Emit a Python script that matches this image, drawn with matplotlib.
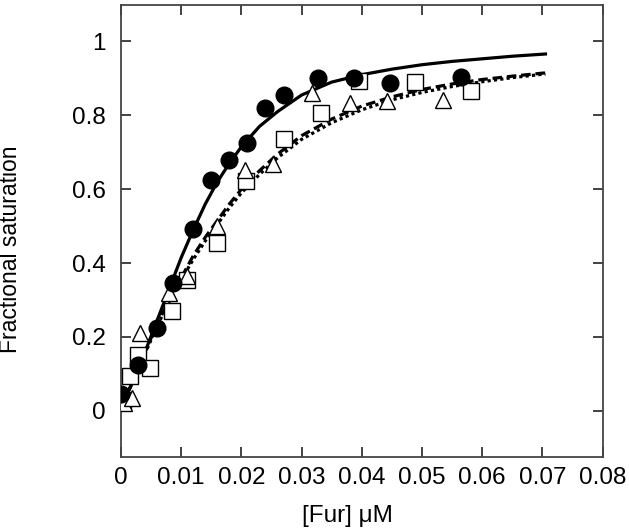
import numpy as np
import matplotlib
matplotlib.use('Agg')
from matplotlib import pyplot as plt

plt.rcParams['font.family'] = ['Liberation Sans', 'DejaVu Sans']

# filled circles
circ_x = [0.0, 0.0028, 0.0059, 0.0086, 0.0120, 0.0149, 0.0180, 0.0209, 0.0239, 0.0270, 0.0327, 0.0387, 0.0446, 0.0564]
circ_y = [0.045, 0.125, 0.225, 0.347, 0.492, 0.624, 0.680, 0.725, 0.820, 0.855, 0.902, 0.900, 0.888, 0.904]

# open squares
sq_x = [0.0003, 0.0015, 0.0028, 0.0048, 0.0084, 0.0110, 0.0160, 0.0208, 0.0270, 0.0333, 0.0396, 0.0488, 0.0582]
sq_y = [0.030, 0.093, 0.150, 0.116, 0.270, 0.353, 0.454, 0.621, 0.736, 0.807, 0.892, 0.891, 0.865]

# open triangles
tri_x = [0.0005, 0.0018, 0.0031, 0.0079, 0.0110, 0.0160, 0.0206, 0.0253, 0.0318, 0.0380, 0.0442, 0.0535]
tri_y = [0.020, 0.035, 0.212, 0.319, 0.365, 0.501, 0.653, 0.667, 0.861, 0.834, 0.838, 0.841]

# fitted curves
fit_x = [0.0, 0.002, 0.004, 0.006, 0.008, 0.010, 0.012, 0.014, 0.016, 0.018, 0.020,
         0.023, 0.026, 0.030, 0.035, 0.040, 0.045, 0.050, 0.055, 0.060, 0.065, 0.0705]
solid_y = [0.01, 0.08, 0.16, 0.245, 0.33, 0.415, 0.49, 0.56, 0.62, 0.67, 0.715,
           0.77, 0.81, 0.855, 0.89, 0.91, 0.925, 0.937, 0.946, 0.953, 0.960, 0.966]
dash_y = [0.01, 0.08, 0.16, 0.235, 0.30, 0.36, 0.42, 0.47, 0.515, 0.56, 0.60,
          0.65, 0.695, 0.745, 0.79, 0.825, 0.85, 0.87, 0.885, 0.897, 0.906, 0.915]
dot_y = [0.01, 0.08, 0.155, 0.23, 0.295, 0.355, 0.41, 0.46, 0.505, 0.55, 0.59,
         0.64, 0.685, 0.735, 0.78, 0.815, 0.842, 0.862, 0.878, 0.891, 0.902, 0.912]

fig = plt.figure(figsize=(6.29, 5.30), dpi=100)
ax = fig.add_axes([0.1924, 0.1377, 0.7657, 0.8538])

ax.plot(fit_x, solid_y, color='k', lw=2.3, ls='-', zorder=3)
ax.plot(fit_x, dash_y, color='k', lw=2.3, ls=(0, (3, 1.5)), zorder=3)
ax.plot(fit_x, dot_y, color='k', lw=2.3, ls=(0, (1, 1)), zorder=3)

ax.plot(sq_x, sq_y, ls='none', marker='s', ms=11, mfc='white', mec='k', mew=1.0, zorder=4)
ax.plot(tri_x, tri_y, ls='none', marker='^', ms=11, mfc='white', mec='k', mew=1.0, zorder=4)
ax.plot(circ_x, circ_y, ls='none', marker='o', ms=12, mfc='k', mec='k', zorder=5)

ax.set_xlim(0, 0.08)
ax.set_ylim(-0.125, 1.1)
ax.set_xticks(np.arange(0, 0.081, 0.01))
ax.set_xticklabels(['0', '0.01', '0.02', '0.03', '0.04', '0.05', '0.06', '0.07', '0.08'])
ax.set_yticks([0, 0.2, 0.4, 0.6, 0.8, 1])
ax.set_yticklabels(['0', '0.2', '0.4', '0.6', '0.8', '1'])

ax.tick_params(direction='in', length=7, width=1.2, top=True, right=True,
               labelsize=17.5, color='#222222')
ax.tick_params(axis='y', pad=11)
ax.tick_params(axis='x', pad=7)
for s in ax.spines.values():
    s.set_color('#444444')
    s.set_linewidth(1.3)

ax.set_xlabel('[Fur] \u03bcM', fontsize=17.5)
ax.set_ylabel('Fractional saturation', fontsize=16.5)
ax.xaxis.set_label_coords(0.47, -0.105)
ax.yaxis.set_label_coords(-0.205, 0.46)

plt.savefig('out.png', dpi=100)
